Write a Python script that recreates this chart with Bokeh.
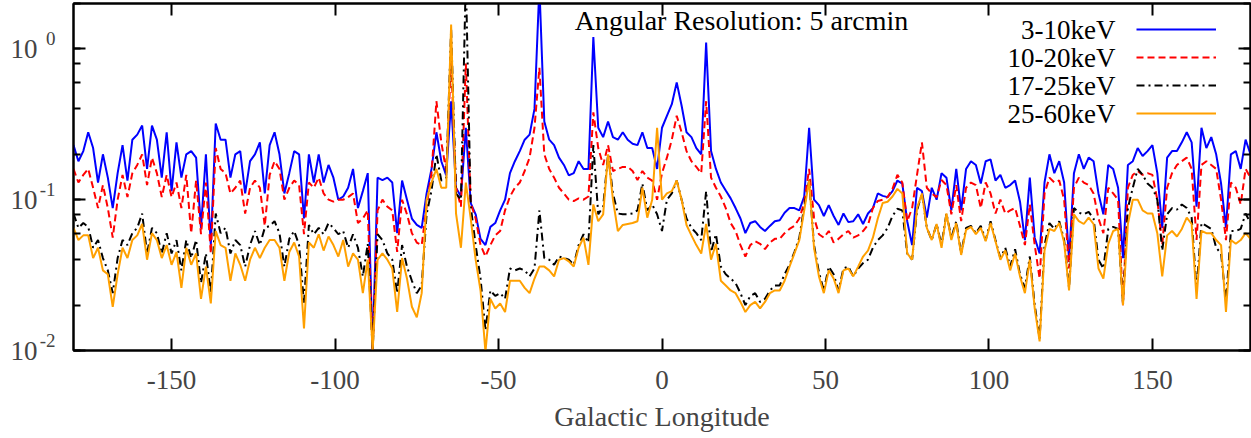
import numpy as np
from bokeh.plotting import figure
from bokeh.models import (FixedTicker, LinearAxis, LogAxis, LogTicker, Label, Legend,
                          LegendItem, CustomJSTickFormatter, Range1d, LogScale)
from bokeh.embed import file_html
from bokeh.resources import INLINE

# longitude sampling grid (degrees)
lon = np.arange(-180.0, 180.01, 1.5)

band_3_10 = [
    0.23, 0.18, 0.21, 0.28, 0.22, 0.13, 0.2, 0.14, 0.088, 0.15,
    0.23, 0.134, 0.25, 0.27, 0.31, 0.16, 0.31, 0.25, 0.14, 0.28,
    0.114, 0.24, 0.14, 0.2, 0.21, 0.19, 0.065, 0.2, 0.05, 0.32,
    0.25, 0.25, 0.14, 0.2, 0.21, 0.11, 0.18, 0.2, 0.24, 0.11,
    0.23, 0.28, 0.2, 0.11, 0.15, 0.21, 0.2, 0.075, 0.2, 0.13,
    0.2, 0.13, 0.17, 0.14, 0.1, 0.105, 0.12, 0.16, 0.088, 0.114,
    0.15, 0.01, 0.14, 0.135, 0.14, 0.13, 0.06, 0.134, 0.1, 0.075,
    0.068, 0.065, 0.11, 0.16, 0.28, 0.18, 0.145, 0.45, 0.12, 0.105,
    0.3, 0.095, 0.08, 0.055, 0.05, 0.066, 0.07, 0.085, 0.1, 0.15,
    0.18, 0.21, 0.25, 0.27, 0.4, 2.6, 0.33, 0.25, 0.23, 0.19,
    0.17, 0.145, 0.15, 0.18, 0.16, 0.16, 1.2, 0.3, 0.26, 0.33,
    0.26, 0.25, 0.28, 0.25, 0.235, 0.23, 0.28, 0.22, 0.22, 0.16,
    0.3, 0.36, 0.43, 0.6, 0.42, 0.28, 0.26, 0.22, 0.2, 1.1,
    0.21, 0.16, 0.13, 0.115, 0.102, 0.088, 0.075, 0.06, 0.07, 0.072,
    0.066, 0.062, 0.067, 0.072, 0.073, 0.082, 0.088, 0.088, 0.085, 0.105,
    0.3, 0.1, 0.092, 0.078, 0.092, 0.078, 0.068, 0.081, 0.071, 0.072,
    0.08, 0.069, 0.081, 0.088, 0.11, 0.106, 0.104, 0.114, 0.134, 0.128,
    0.072, 0.05, 0.12, 0.114, 0.076, 0.12, 0.1, 0.15, 0.14, 0.085,
    0.16, 0.085, 0.16, 0.18, 0.17, 0.128, 0.18, 0.185, 0.134, 0.146,
    0.12, 0.125, 0.134, 0.097, 0.054, 0.14, 0.056, 0.044, 0.13, 0.2,
    0.15, 0.18, 0.13, 0.04, 0.15, 0.2, 0.16, 0.19, 0.18, 0.11,
    0.08, 0.17, 0.16, 0.12, 0.041, 0.17, 0.18, 0.22, 0.195, 0.21,
    0.23, 0.15, 0.065, 0.19, 0.21, 0.21, 0.24, 0.28, 0.24, 0.09,
    0.3, 0.22, 0.26, 0.2, 0.128, 0.065, 0.2, 0.21, 0.16, 0.25, 0.2,
]

band_10_20 = [
    0.16, 0.13, 0.146, 0.16, 0.12, 0.088, 0.125, 0.088, 0.056, 0.1,
    0.146, 0.104, 0.15, 0.17, 0.2, 0.125, 0.19, 0.15, 0.104, 0.146,
    0.104, 0.13, 0.088, 0.146, 0.06, 0.134, 0.059, 0.13, 0.044, 0.22,
    0.16, 0.15, 0.11, 0.12, 0.134, 0.081, 0.12, 0.134, 0.12, 0.067,
    0.146, 0.18, 0.16, 0.1, 0.12, 0.134, 0.125, 0.059, 0.13, 0.12,
    0.14, 0.11, 0.1, 0.097, 0.1, 0.1, 0.104, 0.11, 0.07, 0.075,
    0.085, 0.01, 0.085, 0.1, 0.09, 0.085, 0.045, 0.1, 0.08, 0.06,
    0.052, 0.05, 0.09, 0.15, 0.45, 0.24, 0.155, 0.85, 0.12, 0.09,
    0.8, 0.095, 0.075, 0.05, 0.042, 0.05, 0.058, 0.062, 0.085, 0.105,
    0.12, 0.13, 0.155, 0.19, 0.3, 0.75, 0.2, 0.16, 0.14, 0.12,
    0.11, 0.1, 0.098, 0.102, 0.1, 0.105, 0.38, 0.22, 0.17, 0.23,
    0.155, 0.16, 0.165, 0.165, 0.155, 0.135, 0.155, 0.14, 0.134, 0.1,
    0.15, 0.19, 0.25, 0.36, 0.28, 0.21, 0.18, 0.165, 0.15, 0.45,
    0.14, 0.12, 0.105, 0.088, 0.07, 0.062, 0.05, 0.042, 0.05, 0.053,
    0.051, 0.047, 0.052, 0.055, 0.055, 0.06, 0.064, 0.067, 0.075, 0.095,
    0.16, 0.076, 0.059, 0.056, 0.062, 0.052, 0.055, 0.059, 0.062, 0.056,
    0.058, 0.062, 0.068, 0.088, 0.098, 0.1, 0.104, 0.118, 0.146, 0.13,
    0.072, 0.088, 0.146, 0.24, 0.12, 0.11, 0.104, 0.135, 0.125, 0.08,
    0.125, 0.072, 0.12, 0.13, 0.125, 0.088, 0.13, 0.11, 0.081, 0.1,
    0.081, 0.085, 0.088, 0.067, 0.05, 0.093, 0.05, 0.03, 0.11, 0.14,
    0.13, 0.134, 0.1, 0.035, 0.12, 0.14, 0.13, 0.125, 0.11, 0.075,
    0.06, 0.12, 0.11, 0.1, 0.02, 0.12, 0.146, 0.155, 0.146, 0.15,
    0.146, 0.1, 0.05, 0.12, 0.15, 0.17, 0.18, 0.19, 0.16, 0.054,
    0.17, 0.18, 0.17, 0.16, 0.1, 0.054, 0.13, 0.12, 0.093, 0.16, 0.14,
]

band_17_25 = [
    0.081, 0.065, 0.07, 0.066, 0.048, 0.054, 0.041, 0.034, 0.024, 0.041,
    0.054, 0.05, 0.06, 0.065, 0.081, 0.044, 0.065, 0.06, 0.044, 0.06,
    0.044, 0.054, 0.034, 0.054, 0.041, 0.054, 0.028, 0.044, 0.024, 0.081,
    0.06, 0.065, 0.044, 0.054, 0.05, 0.036, 0.05, 0.062, 0.05, 0.065,
    0.067, 0.072, 0.06, 0.036, 0.055, 0.062, 0.05, 0.0205, 0.068, 0.059,
    0.065, 0.059, 0.07, 0.065, 0.059, 0.062, 0.048, 0.059, 0.048, 0.031,
    0.051, 0.01, 0.059, 0.054, 0.044, 0.04, 0.024, 0.05, 0.036, 0.029,
    0.024, 0.027, 0.08, 0.115, 0.2, 0.134, 0.14, 1.35, 0.11, 0.1,
    3.0, 0.09, 0.05, 0.03, 0.0136, 0.025, 0.023, 0.024, 0.022, 0.035,
    0.034, 0.035, 0.034, 0.031, 0.035, 0.085, 0.041, 0.04, 0.037, 0.042,
    0.041, 0.04, 0.037, 0.05, 0.059, 0.052, 0.23, 0.08, 0.09, 0.2,
    0.11, 0.081, 0.08, 0.08, 0.081, 0.085, 0.128, 0.085, 0.093, 0.08,
    0.062, 0.1, 0.11, 0.134, 0.1, 0.075, 0.065, 0.06, 0.054, 0.114,
    0.045, 0.059, 0.036, 0.032, 0.03, 0.028, 0.024, 0.02, 0.023, 0.024,
    0.021, 0.022, 0.025, 0.027, 0.027, 0.032, 0.037, 0.045, 0.056, 0.09,
    0.134, 0.05, 0.033, 0.025, 0.036, 0.032, 0.025, 0.035, 0.036, 0.031,
    0.035, 0.038, 0.04, 0.048, 0.054, 0.058, 0.065, 0.078, 0.087, 0.085,
    0.044, 0.04, 0.085, 0.11, 0.065, 0.054, 0.069, 0.05, 0.081, 0.056,
    0.072, 0.044, 0.065, 0.067, 0.06, 0.067, 0.054, 0.072, 0.054, 0.041,
    0.048, 0.036, 0.047, 0.032, 0.026, 0.042, 0.02, 0.012, 0.05, 0.07,
    0.064, 0.072, 0.054, 0.026, 0.088, 0.082, 0.08, 0.083, 0.075, 0.04,
    0.035, 0.064, 0.066, 0.064, 0.0205, 0.088, 0.12, 0.16, 0.146, 0.128,
    0.12, 0.1, 0.046, 0.08, 0.088, 0.086, 0.093, 0.088, 0.076, 0.025,
    0.07, 0.067, 0.064, 0.048, 0.044, 0.021, 0.062, 0.062, 0.064, 0.081, 0.07,
]

band_25_60 = [
    0.065, 0.054, 0.058, 0.058, 0.041, 0.048, 0.034, 0.032, 0.0195, 0.032,
    0.048, 0.041, 0.054, 0.058, 0.069, 0.04, 0.06, 0.054, 0.041, 0.05,
    0.037, 0.045, 0.026, 0.048, 0.037, 0.044, 0.022, 0.036, 0.0205, 0.062,
    0.05, 0.048, 0.029, 0.044, 0.037, 0.029, 0.04, 0.048, 0.041, 0.048,
    0.054, 0.054, 0.048, 0.029, 0.045, 0.052, 0.042, 0.014, 0.052, 0.048,
    0.059, 0.046, 0.057, 0.05, 0.042, 0.054, 0.036, 0.044, 0.04, 0.024,
    0.04, 0.01, 0.04, 0.044, 0.04, 0.035, 0.018, 0.041, 0.03, 0.0195,
    0.0166, 0.024, 0.1, 0.13, 0.16, 0.12, 0.12, 1.45, 0.081, 0.048,
    0.13, 0.075, 0.04, 0.025, 0.0098, 0.022, 0.019, 0.0205, 0.018, 0.029,
    0.029, 0.029, 0.026, 0.024, 0.03, 0.036, 0.036, 0.034, 0.031, 0.04,
    0.041, 0.039, 0.036, 0.048, 0.056, 0.037, 0.093, 0.072, 0.08, 0.2,
    0.1, 0.062, 0.068, 0.069, 0.07, 0.072, 0.12, 0.076, 0.1, 0.3,
    0.1, 0.11, 0.114, 0.134, 0.1, 0.068, 0.058, 0.05, 0.044, 0.069,
    0.04, 0.051, 0.029, 0.027, 0.025, 0.024, 0.021, 0.018, 0.02, 0.021,
    0.019, 0.021, 0.024, 0.025, 0.025, 0.029, 0.036, 0.044, 0.054, 0.085,
    0.134, 0.048, 0.031, 0.024, 0.034, 0.03, 0.024, 0.034, 0.035, 0.031,
    0.036, 0.042, 0.046, 0.056, 0.075, 0.095, 0.097, 0.105, 0.118, 0.11,
    0.044, 0.04, 0.088, 0.11, 0.065, 0.054, 0.069, 0.048, 0.081, 0.054,
    0.07, 0.043, 0.063, 0.066, 0.059, 0.065, 0.053, 0.07, 0.053, 0.04,
    0.046, 0.034, 0.044, 0.031, 0.024, 0.04, 0.019, 0.0115, 0.046, 0.064,
    0.062, 0.07, 0.052, 0.025, 0.08, 0.072, 0.069, 0.076, 0.069, 0.035,
    0.03, 0.051, 0.062, 0.064, 0.02, 0.069, 0.1, 0.1, 0.085, 0.081,
    0.081, 0.06, 0.031, 0.058, 0.062, 0.057, 0.064, 0.076, 0.069, 0.022,
    0.062, 0.06, 0.06, 0.054, 0.05, 0.018, 0.054, 0.051, 0.054, 0.06, 0.055,
]

series_names = ["3-10keV", "10-20keV", "17-25keV", "25-60keV"]
series_colors = ["#0000ff", "#ff0000", "#000000", "#ffa000"]
series_dashes = ["solid", "7 4", "8 4 2 4", "solid"]

xtick_values = [-150, -100, -50, 0, 50, 100, 150]
xtick_labels = ["-150", "-100", "-50", "0", "50", "100", "150"]
ytick_values = [0.01, 0.1, 1.0]
ytick_base = "10"
ytick_exponents = ["-2", "-1", "0"]
title_text = "Angular Resolution: 5 arcmin"
x_label = "Galactic Longitude"

FONT = "Liberation Serif"
Y0, Y1 = 0.01, 2.0
FRAME_H = 347
SUP_SHIFT = 10  # px the exponent is raised above the "10"

p = figure(width=1251, height=438, x_range=Range1d(-180, 180),
           y_range=Range1d(Y0, Y1), y_axis_type="log",
           output_backend="svg", toolbar_location=None,
           min_border_left=73, min_border_right=1, min_border_top=3,
           min_border_bottom=88)
p.background_fill_color = "white"
p.border_fill_color = "white"
p.outline_line_color = "black"
p.outline_line_width = 2
p.xgrid.grid_line_color = None
p.ygrid.grid_line_color = None

# shifted log range used only to raise the exponent labels by SUP_SHIFT px
decades = np.log10(Y1 / Y0)
f = 10 ** (SUP_SHIFT * decades / FRAME_H)
p.extra_y_ranges = {"sup": Range1d(Y0 / f, Y1 / f)}
p.extra_y_scales = {"sup": LogScale()}

renderers = []
for vals, col, dash in zip([band_3_10, band_10_20, band_17_25, band_25_60],
                           series_colors, series_dashes):
    r = p.line(lon, vals, line_color=col, line_width=2, line_dash=dash)
    renderers.append(r)

# bottom axis
xa = p.xaxis[0]
xa.ticker = FixedTicker(ticks=xtick_values)
xa.major_label_overrides = dict(zip(xtick_values, xtick_labels))
xa.axis_label = x_label
xa.axis_label_text_font = FONT
xa.axis_label_text_font_size = "28px"
xa.axis_label_text_font_style = "normal"
xa.axis_label_standoff = 9
xa.major_label_text_font = FONT
xa.major_label_text_font_size = "27px"
xa.major_label_standoff = 20

empty = CustomJSTickFormatter(code="return '';")

# innermost left axis: ticks only
ya = p.yaxis[0]
ya.ticker = LogTicker()
ya.formatter = empty
ya.major_label_text_font_size = "0px"
ya.major_label_standoff = 0

top = LinearAxis(ticker=FixedTicker(ticks=xtick_values), formatter=empty,
                 major_label_standoff=0, major_label_text_font_size="0px")
right = LogAxis(ticker=LogTicker(), formatter=empty,
                major_label_standoff=0, major_label_text_font_size="0px")
p.add_layout(top, "above")
p.add_layout(right, "right")

for ax in [xa, ya, top, right]:
    ax.axis_line_color = "black"
    ax.axis_line_width = 2
    ax.major_tick_line_color = "black"
    ax.major_tick_line_width = 2
    ax.major_tick_in = 12
    ax.major_tick_out = 0
for ax in [xa, top]:
    ax.minor_tick_line_color = None
for ax in [ya, right]:
    ax.minor_tick_line_color = "black"
    ax.minor_tick_line_width = 2
    ax.minor_tick_in = 7
    ax.minor_tick_out = 0

# exponent labels (raised), then the "10" labels further out
exp_fmt = CustomJSTickFormatter(args=dict(vals=ytick_values, labs=ytick_exponents), code="""
for (let i = 0; i < vals.length; i++) {
  if (Math.abs(Math.log10(tick) - Math.log10(vals[i])) < 1e-6) { return labs[i]; }
}
return "";
""")
base_fmt = CustomJSTickFormatter(args=dict(base=ytick_base), code="return base;")

ax_exp = LogAxis(y_range_name="sup", ticker=FixedTicker(ticks=ytick_values),
                 formatter=exp_fmt, major_label_standoff=18,
                 major_label_text_font=FONT, major_label_text_font_size="19px",
                 axis_line_color=None, major_tick_line_color=None,
                 minor_tick_line_color=None, major_tick_in=0, major_tick_out=0,
                 minor_tick_in=0, minor_tick_out=0)
ax_base = LogAxis(ticker=FixedTicker(ticks=ytick_values), formatter=base_fmt,
                  major_label_standoff=-1,
                  major_label_text_font=FONT, major_label_text_font_size="27px",
                  axis_line_color=None, major_tick_line_color=None,
                  minor_tick_line_color=None, major_tick_in=0, major_tick_out=0,
                  minor_tick_in=0, minor_tick_out=0)
p.add_layout(ax_exp, "left")
p.add_layout(ax_base, "left")

# title inside the frame
p.add_layout(Label(x=668, y=330, x_units="screen", y_units="screen", text=title_text,
                   text_font=FONT, text_font_size="28px", text_align="center",
                   text_baseline="middle", text_color="black"))

# legend: text on the left, line samples on the right (gnuplot style)
legend_y = [321, 293, 265, 237]
for name, yy in zip(series_names, legend_y):
    p.add_layout(Label(x=1042, y=yy, x_units="screen", y_units="screen", text=name,
                       text_font=FONT, text_font_size="27px", text_align="right",
                       text_baseline="middle", text_color="black"))

legend = Legend(items=[LegendItem(label=" ", renderers=[r]) for r in renderers],
                location=(1063, 227), orientation="vertical",
                glyph_width=80, glyph_height=20, label_height=20, label_width=0,
                label_standoff=0, spacing=8, padding=0, margin=0,
                label_text_font_size="1px",
                border_line_color=None, background_fill_alpha=0)
p.add_layout(legend)

open("out.html", "w").write(file_html(p, INLINE))
